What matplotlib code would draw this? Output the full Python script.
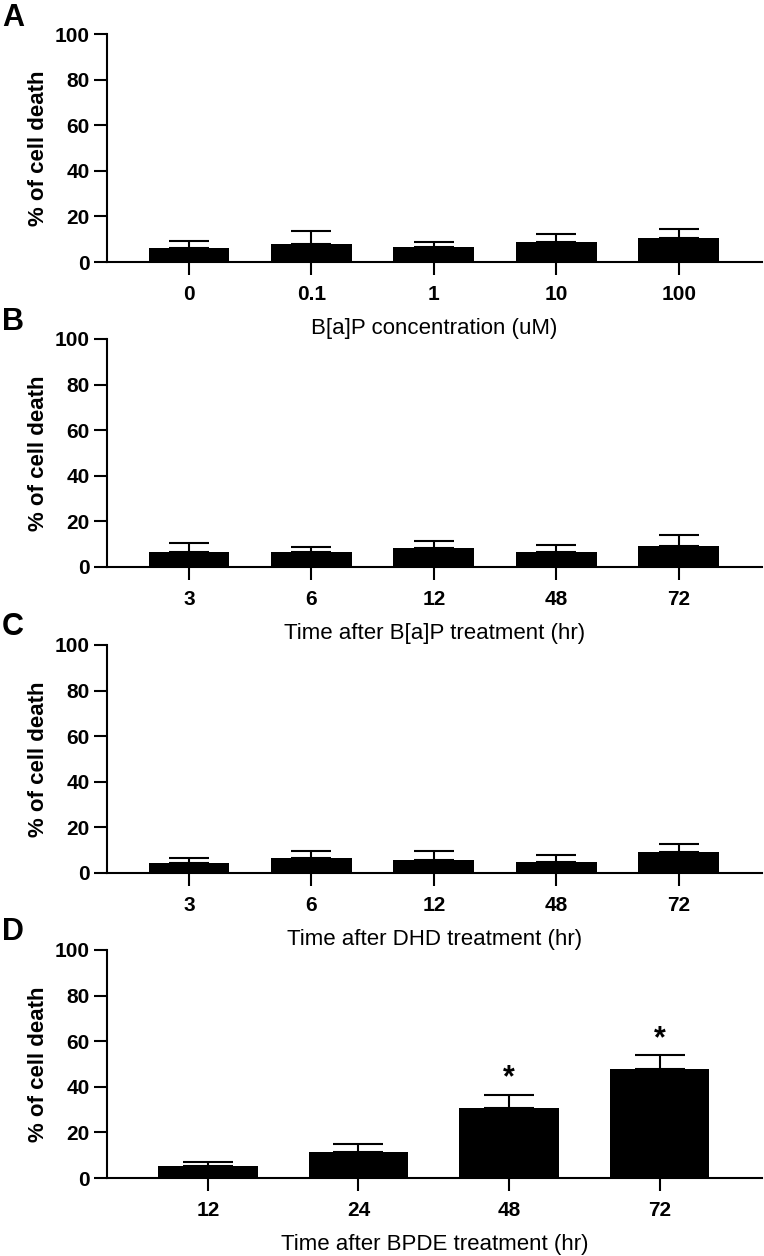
import numpy as np
import matplotlib.pyplot as plt

plt.rcParams['font.family'] = ['Liberation Sans', 'DejaVu Sans']

# panel A: B[a]P dose
a_labels = ['0', '0.1', '1', '10', '100']
a_mean = [6.1, 7.9, 6.6, 8.6, 10.4]
a_err = [3.1, 5.7, 2.2, 3.8, 4.0]

# panel B: time after B[a]P
b_labels = ['3', '6', '12', '48', '72']
b_mean = [6.4, 6.4, 8.2, 6.4, 9.1]
b_err = [4.3, 2.4, 3.2, 3.4, 4.9]

# panel C: time after DHD
c_labels = ['3', '6', '12', '48', '72']
c_mean = [4.4, 6.4, 5.8, 5.0, 9.2]
c_err = [2.0, 3.1, 4.0, 3.0, 3.7]

# panel D: time after BPDE
d_labels = ['12', '24', '48', '72']
d_mean = [5.3, 11.4, 30.9, 48.0]
d_err = [1.9, 3.7, 5.6, 5.9]
d_sig = [False, False, True, True]

panels = [
    ('A', a_labels, a_mean, a_err, None, 'B[a]P concentration (uM)'),
    ('B', b_labels, b_mean, b_err, None, 'Time after B[a]P treatment (hr)'),
    ('C', c_labels, c_mean, c_err, None, 'Time after DHD treatment (hr)'),
    ('D', d_labels, d_mean, d_err, d_sig, 'Time after BPDE treatment (hr)'),
]

W, H = 764, 1256
fig = plt.figure(figsize=(W / 100, H / 100), dpi=100)

ax_left, ax_right = 107, 762
ax_tops = [34, 339, 645, 950]
ax_h = 228
letter_tops = [3, 307, 612, 917]

for (letter, labels, mean, err, sig, xlabel), top, ltop in zip(panels, ax_tops, letter_tops):
    ax = fig.add_axes([ax_left / W, 1 - (top + ax_h) / H,
                       (ax_right - ax_left) / W, ax_h / H])
    n = len(labels)
    x = np.arange(n)
    width = 0.66
    # cap is about half of bar width
    px_per_unit = (ax_right - ax_left) / (n - 1 + 1.35)
    cap = width * px_per_unit * 0.25 * 0.72
    ax.bar(x, mean, width=width, color='black', zorder=2)
    ax.errorbar(x, mean, yerr=[np.zeros(n), err], fmt='none', ecolor='black',
                elinewidth=1.5, capsize=cap, capthick=1.5, zorder=1)
    if sig is not None:
        for xi, m, e, s in zip(x, mean, err, sig):
            if s:
                ax.text(xi, m + e + 0.5, '*', ha='center', va='bottom',
                        fontsize=22, fontweight='bold')
    ax.set_xlim(-0.67, n - 1 + 0.68)
    ax.set_ylim(0, 100)
    ax.set_yticks([0, 20, 40, 60, 80, 100])
    ax.set_xticks(x)
    ax.set_xticklabels(labels)
    for s in ['top', 'right']:
        ax.spines[s].set_visible(False)
    for s in ['left', 'bottom']:
        ax.spines[s].set_linewidth(1.5)
    ax.tick_params(axis='both', direction='out', length=9.5, width=1.5,
                   labelsize=15, pad=3)
    ax.tick_params(axis='x', pad=7)
    for t in ax.get_xticklabels() + ax.get_yticklabels():
        t.set_fontweight('bold')
    ax.set_ylabel('% of cell death', fontsize=16, fontweight='bold', labelpad=4)
    ax.set_xlabel(xlabel, fontsize=16, labelpad=10)
    fig.text(2 / W, 1 - ltop / H, letter, ha='left', va='top',
             fontsize=22, fontweight='bold')

fig.savefig('out.png', dpi=100)
